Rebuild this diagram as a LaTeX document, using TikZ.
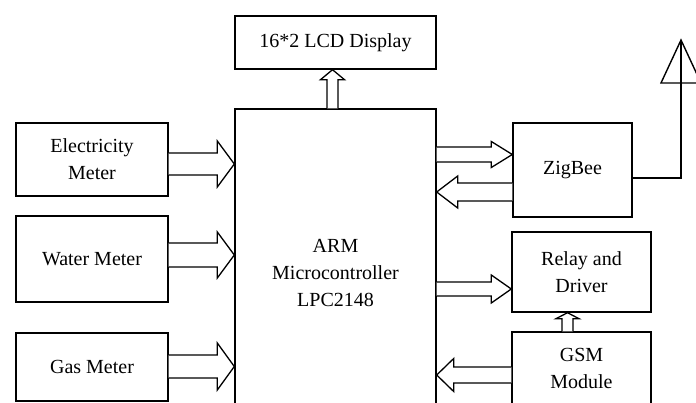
\documentclass[tikz,border=0pt]{standalone}
\usepackage{fontspec}
\setmainfont{Liberation Serif}
\usetikzlibrary{calc}
\tikzset{
  box/.style={draw=black, line width=1.4pt, fill=white, align=center, inner sep=2pt,
    font=\fontsize{20}{27}\selectfont},
  arrline/.style={draw=black, line width=1.3pt, line join=miter, fill=white},
  wire/.style={draw=black, line width=1.4pt}
}
% horizontal hollow arrow: tail, tip, shaft half width, head half width, head length
\newcommand\harr[5]{%
  \draw[arrline] let \p1=(#1), \p2=(#2), \n1={ifthenelse(\x2>\x1,1,-1)} in
   (\x1,{\y1+#3pt}) -- ({\x2-\n1*#5pt},{\y1+#3pt}) -- ({\x2-\n1*#5pt},{\y1+#4pt}) -- (\x2,\y1)
   -- ({\x2-\n1*#5pt},{\y1-#4pt}) -- ({\x2-\n1*#5pt},{\y1-#3pt}) -- (\x1,{\y1-#3pt});}
% vertical hollow arrow
\newcommand\varr[5]{%
  \draw[arrline] let \p1=(#1), \p2=(#2), \n1={ifthenelse(\y2>\y1,1,-1)} in
   ({\x1+#3pt},\y1) -- ({\x1+#3pt},{\y2-\n1*#5pt}) -- ({\x1+#4pt},{\y2-\n1*#5pt}) -- (\x1,\y2)
   -- ({\x1-#4pt},{\y2-\n1*#5pt}) -- ({\x1-#3pt},{\y2-\n1*#5pt}) -- ({\x1-#3pt},\y1);}
\begin{document}
\begin{tikzpicture}[x=1pt,y=-1pt]
\useasboundingbox (0,0) rectangle (696,403);
\clip (0,0) rectangle (696,403);
% boxes
\node[box, minimum width=201pt, minimum height=53pt] (lcd) at (335.5,42.5) {16*2 LCD Display};
\node[box, minimum width=201pt, minimum height=328pt] (mcu) at (335.5,273) {ARM\\Microcontroller\\LPC2148};
\node[box, minimum width=152pt, minimum height=73pt] (elec) at (92,159.5) {Electricity\\Meter};
\node[box, minimum width=152pt, minimum height=86pt] (water) at (92,259) {Water Meter};
\node[box, minimum width=152pt, minimum height=68pt] (gas) at (92,367) {Gas Meter};
\node[box, minimum width=119pt, minimum height=94pt] (zig) at (572.5,170) {ZigBee};
\node[box, minimum width=139pt, minimum height=80pt] (relay) at (581.5,272) {Relay and\\Driver};
\node[box, minimum width=139pt, minimum height=73pt] (gsm) at (581.5,368.5) {GSM\\Module};
% arrow anchor points
\coordinate (e1) at ($(elec.east)+(0,4.5)$);
\coordinate (w1) at ($(water.east)+(0,-4)$);
\coordinate (g1) at ($(gas.east)+(0,-0.5)$);
\coordinate (z1) at ($(zig.west)+(0,-15.5)$);
\coordinate (z2) at ($(zig.west)+(0,22)$);
\coordinate (r1) at ($(relay.west)+(0,17)$);
\coordinate (s1) at ($(gsm.west)+(0,6.5)$);
\coordinate (l1) at ($(mcu.north)+(-3,0)$);
\coordinate (s2) at ($(gsm.north)+(-14,0)$);
% arrows
\harr{e1}{e1 -| mcu.west}{11}{23}{17}
\harr{w1}{w1 -| mcu.west}{12}{23}{17}
\harr{g1}{g1 -| mcu.west}{11.5}{23.5}{17}
\harr{z1 -| mcu.east}{z1}{7.5}{13}{21}
\harr{z2}{z2 -| mcu.east}{9}{16}{21}
\harr{r1 -| mcu.east}{r1}{7}{14}{20}
\harr{s1}{s1 -| mcu.east}{8}{16.5}{17}
\varr{l1}{l1 |- lcd.south}{5.5}{12}{10}
\varr{s2}{s2 |- relay.south}{5.5}{11.5}{6}
% antenna
\coordinate (ant) at (681,40);
\draw[wire] ($(zig.east)+(0,8)$) -| (ant);
\draw[wire] (ant) -- ++(-20,43) -- ++(40,0) -- cycle;
\end{tikzpicture}
\end{document}
